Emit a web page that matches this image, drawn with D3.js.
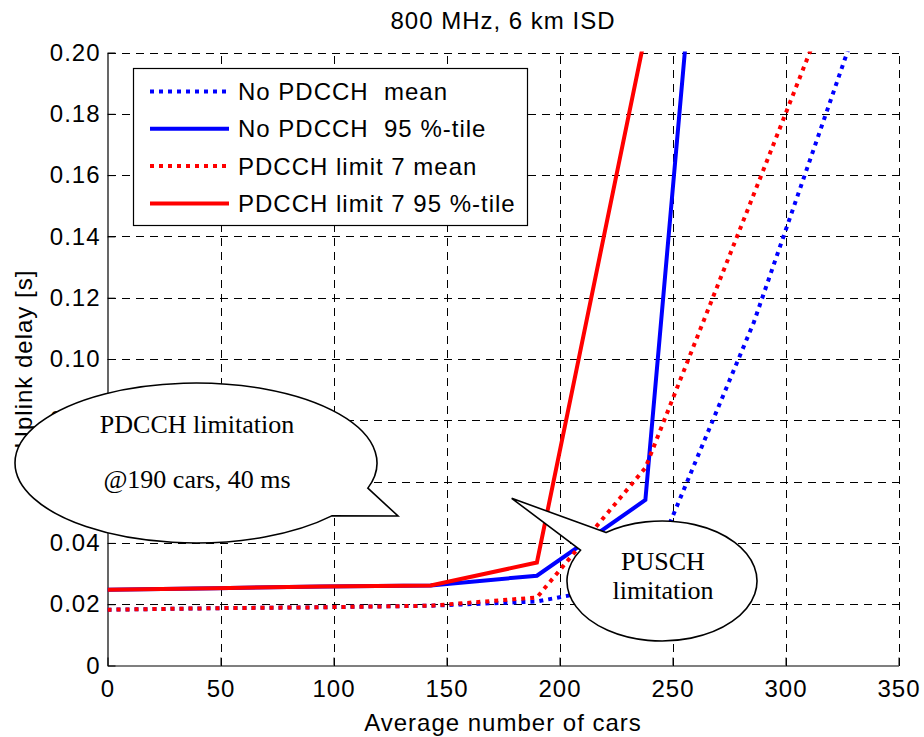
<!DOCTYPE html>
<html>
<head>
<meta charset="utf-8">
<script src="https://cdn.jsdelivr.net/npm/d3@7"></script>
<style>
  body { margin: 0; background: #fff; }
  text { font-family: "Liberation Sans", Arial, sans-serif; }
</style>
</head>
<body>
<script>
// values
var cars = [0, 48, 95, 143, 190, 238, 286, 333];
var noPdcchMean = [0.0182, 0.0187, 0.0190, 0.0195, 0.0209, 0.0274, 0.1120, 0.2122];
var noPdcch95   = [0.0247, 0.0252, 0.0258, 0.0261, 0.0293, 0.0540, 0.4560];
var pdcchMean   = [0.0182, 0.0187, 0.0190, 0.0195, 0.0222, 0.0645, 0.1538, 0.2417];
var pdcch95     = [0.0247, 0.0252, 0.0258, 0.0261, 0.0336, 0.2060];

var seriesNames = ["No PDCCH  mean", "No PDCCH  95 %-tile", "PDCCH limit 7 mean", "PDCCH limit 7 95 %-tile"];
var seriesValues = [noPdcchMean, noPdcch95, pdcchMean, pdcch95];
var seriesColors = ["#0000ff", "#0000ff", "#ff0000", "#ff0000"];
var seriesDotted = [true, false, true, false];

var xTicks = [0, 50, 100, 150, 200, 250, 300, 350];
var yTicks = [0, 0.02, 0.04, 0.06, 0.08, 0.10, 0.12, 0.14, 0.16, 0.18, 0.20];

var title = "800 MHz, 6 km ISD";
var xTitle = "Average number of cars";
var yTitle = "Uplink delay [s]";

var W = 924, H = 737;
// note: "top" is taken by window.top, so use plot* names
var plotL = 107.5, plotR = 898.5, plotT = 52.5, plotB = 665.5;

var svg = d3.select("body").append("svg")
    .attr("width", W)
    .attr("height", H);

var x = d3.scaleLinear().domain([0, 350]).range([plotL, plotR]);
var y = d3.scaleLinear().domain([0, 0.2]).range([plotB, plotT]);

svg.append("defs").append("clipPath").attr("id", "plotclip")
  .append("rect")
    .attr("x", plotL).attr("y", plotT - 1)
    .attr("width", plotR - plotL).attr("height", plotB - plotT + 1);

// dashed grid
var grid = svg.append("g")
    .attr("stroke", "#000")
    .attr("stroke-width", 1)
    .attr("stroke-dasharray", "8,6")
    .attr("shape-rendering", "crispEdges");
grid.selectAll(".vg").data(xTicks.slice(1)).enter().append("line")
    .attr("x1", function(d) { return Math.round(x(d)) + 0.5; })
    .attr("x2", function(d) { return Math.round(x(d)) + 0.5; })
    .attr("y1", plotB).attr("y2", plotT);
grid.selectAll(".hg").data(yTicks.slice(1)).enter().append("line")
    .attr("y1", function(d) { return Math.round(y(d)) + 0.5; })
    .attr("y2", function(d) { return Math.round(y(d)) + 0.5; })
    .attr("x1", plotL).attr("x2", plotR);

// axes, ticks pointing inward like matlab
var xAxis = svg.append("g")
    .attr("transform", "translate(0," + plotB + ")")
    .call(d3.axisBottom(x).tickValues(xTicks).tickSizeInner(-8).tickSizeOuter(0).tickPadding(14)
      .tickFormat(d3.format("d")));
var yAxis = svg.append("g")
    .attr("transform", "translate(" + plotL + ",0)")
    .call(d3.axisLeft(y).tickValues(yTicks).tickSizeInner(-8).tickSizeOuter(0).tickPadding(7)
      .tickFormat(function(d) { return d === 0 ? "0" : d3.format(".2f")(d); }));

[xAxis, yAxis].forEach(function(a) {
  a.attr("font-family", "Liberation Sans, Arial, sans-serif")
   .attr("font-size", 24);
  a.selectAll("text").attr("fill", "#000").style("letter-spacing", "1px");
  a.selectAll("line").attr("stroke", "#000");
  a.select(".domain").attr("stroke", "#000").attr("stroke-width", 1.2);
});

// series
var line = d3.line()
    .x(function(d) { return x(d[0]); })
    .y(function(d) { return y(d[1]); });

var plot = svg.append("g").attr("clip-path", "url(#plotclip)");
seriesValues.forEach(function(vals, i) {
  var pts = vals.map(function(v, j) { return [cars[j], v]; });
  plot.append("path")
      .attr("d", line(pts))
      .attr("fill", "none")
      .attr("stroke", seriesColors[i])
      .attr("stroke-width", 4)
      .attr("stroke-dasharray", seriesDotted[i] ? "4,5" : null)
      .attr("stroke-linejoin", "miter");
});

// titles
svg.append("text")
    .attr("x", (plotL + plotR) / 2)
    .attr("y", 29)
    .attr("text-anchor", "middle")
    .style("font-size", "24px")
    .style("letter-spacing", "1px")
    .text(title);
svg.append("text")
    .attr("x", (plotL + plotR) / 2)
    .attr("y", 731)
    .attr("text-anchor", "middle")
    .style("font-size", "24px")
    .style("letter-spacing", "1px")
    .text(xTitle);
svg.append("text")
    .attr("transform", "translate(32," + ((plotT + plotB) / 2) + ")rotate(-90)")
    .attr("text-anchor", "middle")
    .style("font-size", "24px")
    .style("letter-spacing", "1px")
    .text(yTitle);

// legend
var legend = svg.append("g");
legend.append("rect")
    .attr("x", 133.5).attr("y", 68.5)
    .attr("width", 394).attr("height", 157)
    .attr("fill", "#fff")
    .attr("stroke", "#000")
    .attr("stroke-width", 1.2);
seriesNames.forEach(function(name, i) {
  var ry = 91.5 + i * 37.3;
  legend.append("line")
      .attr("x1", 150).attr("x2", 229)
      .attr("y1", ry).attr("y2", ry)
      .attr("stroke", seriesColors[i])
      .attr("stroke-width", 4)
      .attr("stroke-dasharray", seriesDotted[i] ? "4,5" : null);
  legend.append("text")
      .attr("x", 238)
      .attr("y", ry + 8.5)
      .style("font-size", "24px")
      .style("letter-spacing", "1px")
      .style("white-space", "pre")
      .text(name);
});

// callout bubbles
function bubblePath(cx, cy, rx, ry, a1, a2, tip) {
  var r1 = a1 * Math.PI / 180, r2 = a2 * Math.PI / 180;
  var p1 = [cx + rx * Math.cos(r1), cy + ry * Math.sin(r1)];
  var p2 = [cx + rx * Math.cos(r2), cy + ry * Math.sin(r2)];
  var sweep = (a1 - a2) < 0 ? 1 : 0;
  return "M" + p1 + "L" + tip + "L" + p2 +
         "A" + rx + "," + ry + " 0 1," + sweep + " " + p1 + "Z";
}

var bubbles = [
  { cx: 196, cy: 463, rx: 181, ry: 80, a1: 18.3, a2: 41.4, tip: [398, 516],
    lines: ["PDCCH limitation", "@190 cars, 40 ms"], ty: [433, 488] },
  { cx: 662, cy: 581, rx: 95, ry: 60, a1: -126.1, a2: -149.1, tip: [511.7, 498.3],
    lines: ["PUSCH", "limitation"], ty: [570, 599] }
];

bubbles.forEach(function(b) {
  svg.append("path")
      .attr("d", bubblePath(b.cx, b.cy, b.rx, b.ry, b.a1, b.a2, b.tip))
      .attr("fill", "#fff")
      .attr("stroke", "#000")
      .attr("stroke-width", 1.6);
  b.lines.forEach(function(t, k) {
    svg.append("text")
        .attr("x", b.cx + 1)
        .attr("y", b.ty[k])
        .attr("text-anchor", "middle")
        .style("font-family", "Liberation Serif, Times New Roman, serif")
        .style("font-size", "26px")
        .text(t);
  });
});
</script>
</body>
</html>
